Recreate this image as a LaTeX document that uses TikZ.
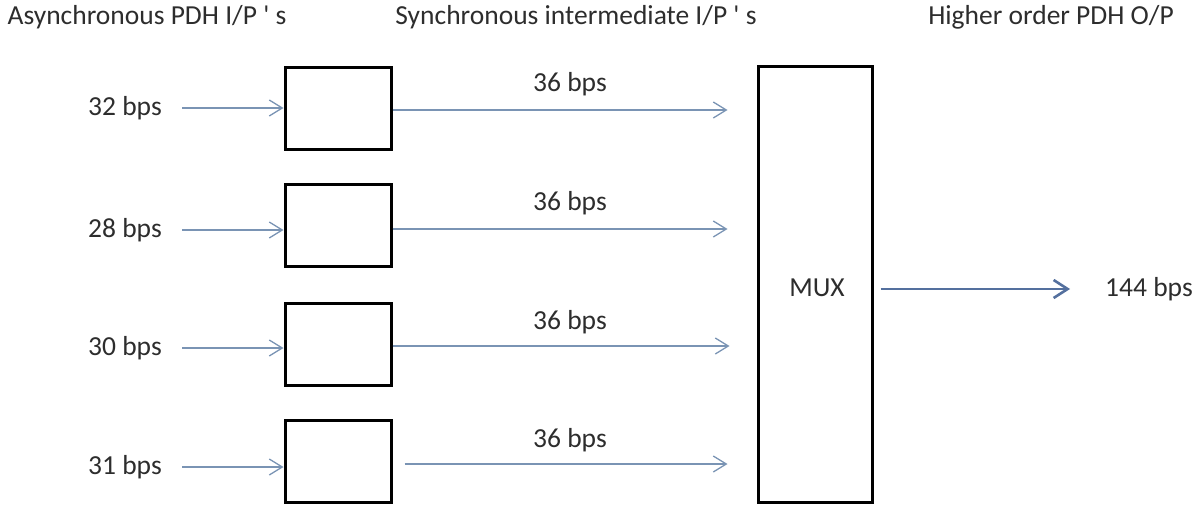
\documentclass[tikz,border=0pt]{standalone}
\usepackage{fontspec}
\setmainfont{Carlito}[Ligatures=TeXOff]
\usetikzlibrary{arrows.meta,calc}
\definecolor{thinline}{RGB}{122,148,180}
\definecolor{thickline}{RGB}{84,112,158}
\definecolor{txt}{RGB}{45,45,45}
\tikzset{
  lbl/.style={font=\fontsize{27.5}{31}\selectfont, text=txt, inner sep=2pt},
  unitbox/.style={draw=black, line width=3pt, minimum width=106pt, minimum height=82pt, inner sep=0pt},
  muxbox/.style={draw=black, line width=3pt, minimum width=114pt, minimum height=436pt, inner sep=0pt},
  flow/.style={draw=thinline, line width=1.3pt, -{Straight Barb[length=13pt,width=16pt,line width=1.3pt]}},
  mainflow/.style={draw=thickline, line width=2.6pt, -{Straight Barb[length=14pt,width=18pt,line width=2.6pt]}}
}
\begin{document}
\begin{tikzpicture}[x=1pt,y=-1pt]
  \useasboundingbox (0,0) rectangle (1199,506);

  % column headings
  \node[lbl] (h1) at (147,17) {Asynchronous PDH I/P ' s};
  \node[lbl] (h2) at (576,17) {Synchronous intermediate I/P ' s};
  \node[lbl] (h3) at (1051,17) {Higher order PDH O/P};

  % rate adaptation boxes
  \node[unitbox] (b1) at (338,108) {};
  \node[unitbox] (b2) at (338,225.5) {};
  \node[unitbox] (b3) at (338,344.5) {};
  \node[unitbox] (b4) at (338,461.5) {};

  % multiplexer
  \node[muxbox] (mux) at (815,284.5) {};
  \node[lbl] (muxt) at (817,288) {MUX};

  % asynchronous input rates
  \node[lbl] (i1) at (125,108) {32 bps};
  \node[lbl] (i2) at (125,230) {28 bps};
  \node[lbl] (i3) at (125,348) {30 bps};
  \node[lbl] (i4) at (125,467) {31 bps};

  \draw[flow] ($(i1.east)+(18,0)$) -- (b1.west |- i1);
  \draw[flow] ($(i2.east)+(18,0)$) -- (b2.west |- i2);
  \draw[flow] ($(i3.east)+(18,0)$) -- (b3.west |- i3);
  \draw[flow] ($(i4.east)+(18,0)$) -- (b4.west |- i4);

  % synchronous intermediate streams
  \coordinate (m1) at (mux.west |- 0,110);
  \coordinate (m2) at (mux.west |- 0,229);
  \coordinate (m3) at (mux.west |- 0,346);
  \coordinate (m4) at (mux.west |- 0,464);
  \draw[flow, shorten >=29pt] (b1.east |- m1) -- (m1);
  \draw[flow, shorten >=29pt] (b2.east |- m2) -- (m2);
  \draw[flow, shorten >=27pt] (b3.east |- m3) -- (m3);
  \draw[flow, shorten <=12pt, shorten >=29pt] (b4.east |- m4) -- (m4);

  \node[lbl] (s1) at (570,84) {36 bps};
  \node[lbl] (s2) at (570,203) {36 bps};
  \node[lbl] (s3) at (570,322) {36 bps};
  \node[lbl] (s4) at (570,440) {36 bps};

  % higher order output
  \node[lbl] (o) at (1149,289) {144 bps};
  \draw[mainflow, shorten <=7pt, shorten >=33pt] (mux.east |- o) -- (o.west);
\end{tikzpicture}
\end{document}
